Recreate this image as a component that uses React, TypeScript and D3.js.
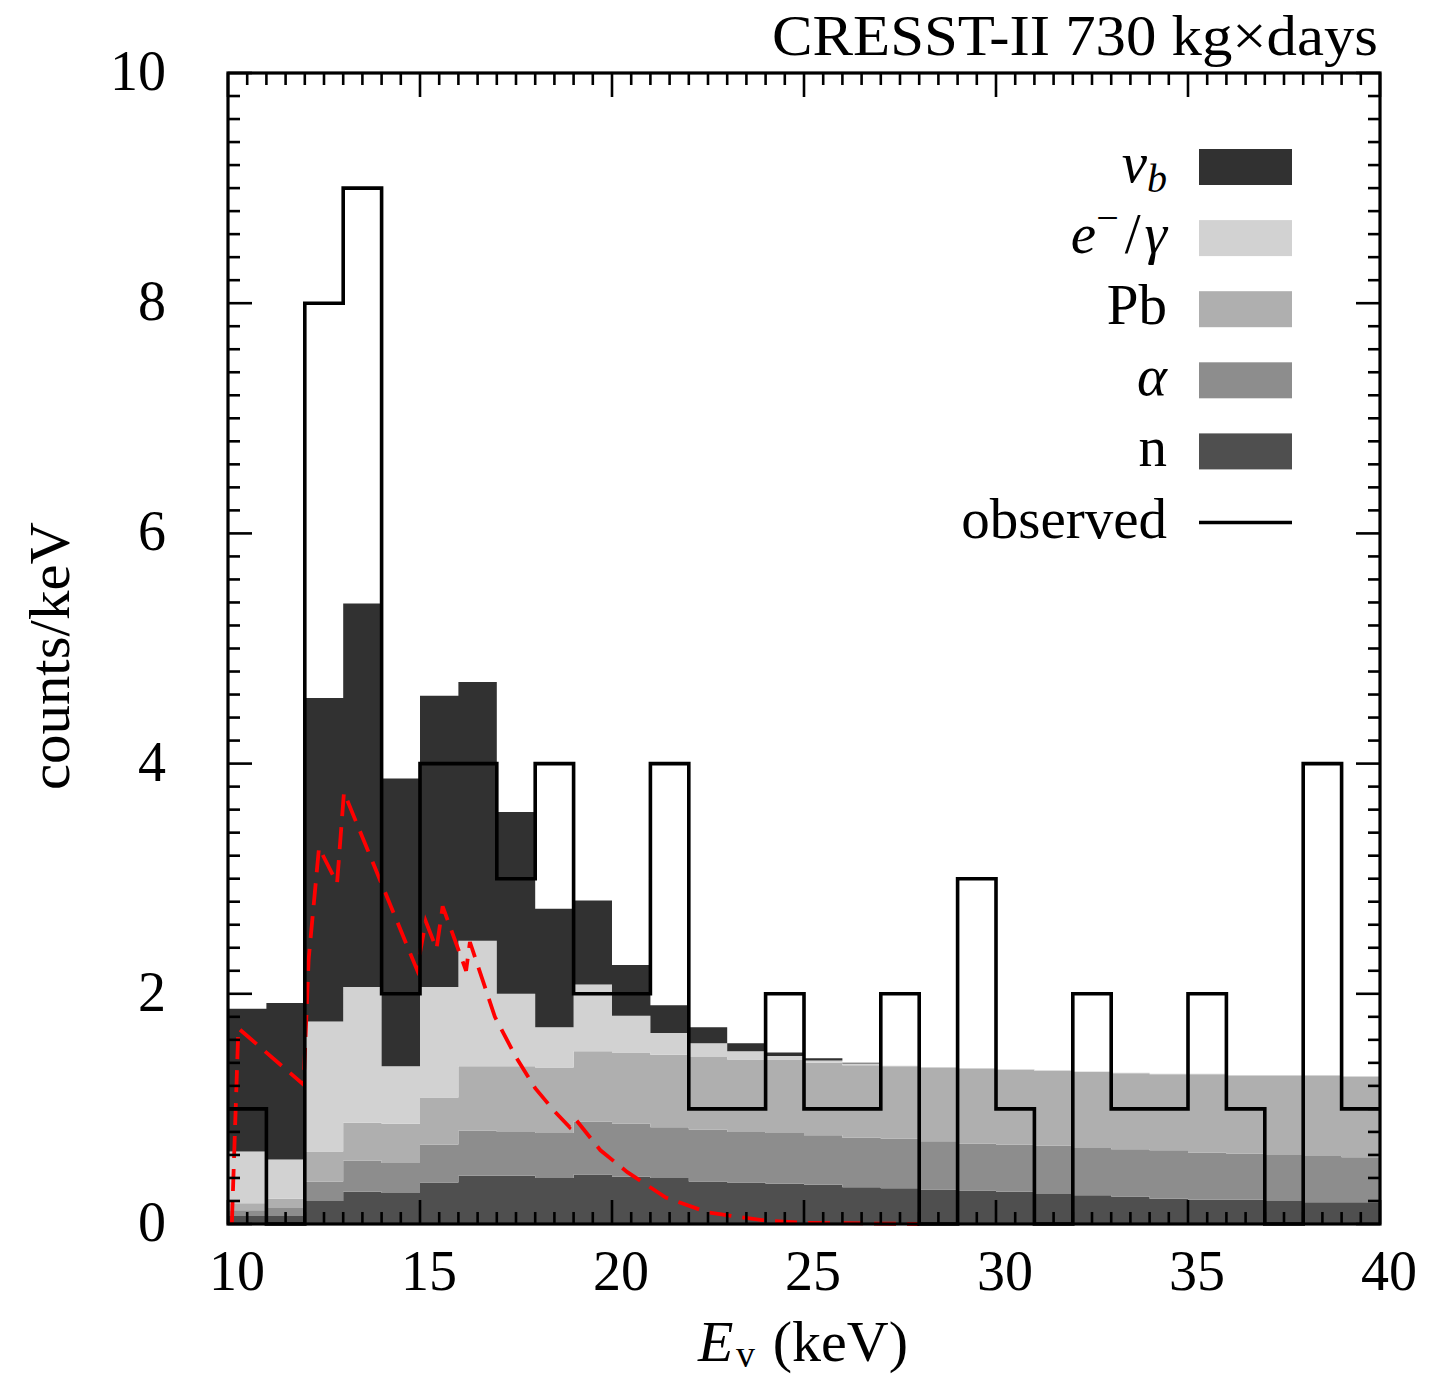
import React from "react";
import * as d3 from "d3";

// Bin lower edges (keV), 1 keV wide
const binLow = [10, 11, 12, 13, 14, 15, 16, 17, 18, 19, 20, 21, 22, 23, 24, 25, 26, 27, 28, 29, 30, 31, 32, 33, 34, 35, 36, 37, 38, 39];
const binWidth = 1;

// Stacked background components (counts/keV), bottom to top
const nNeutron = [0.07, 0.07, 0.20, 0.28, 0.27, 0.36, 0.42, 0.42, 0.40, 0.43, 0.41, 0.40, 0.37, 0.36, 0.35, 0.34, 0.32, 0.31, 0.30, 0.29, 0.28, 0.26, 0.25, 0.24, 0.22, 0.21, 0.21, 0.20, 0.19, 0.19];
const alphaBg = [0.05, 0.07, 0.17, 0.27, 0.26, 0.33, 0.39, 0.38, 0.39, 0.46, 0.46, 0.44, 0.45, 0.44, 0.44, 0.43, 0.43, 0.43, 0.42, 0.41, 0.41, 0.42, 0.41, 0.41, 0.42, 0.41, 0.40, 0.40, 0.40, 0.39];
const pbBg = [0.06, 0.08, 0.26, 0.33, 0.34, 0.41, 0.56, 0.57, 0.57, 0.61, 0.62, 0.63, 0.63, 0.63, 0.64, 0.63, 0.63, 0.63, 0.64, 0.65, 0.65, 0.65, 0.66, 0.66, 0.66, 0.68, 0.68, 0.69, 0.70, 0.70];
const egBg = [0.45, 0.34, 1.13, 1.18, 0.50, 0.96, 1.09, 0.63, 0.35, 0.58, 0.32, 0.19, 0.12, 0.07, 0.03, 0.02, 0.015, 0.005, 0.005, 0.005, 0.005, 0.005, 0.005, 0.005, 0.005, 0.005, 0.005, 0.005, 0.005, 0.005];
const nuB = [1.24, 1.36, 2.81, 3.33, 2.50, 2.53, 2.25, 1.58, 1.03, 0.73, 0.44, 0.24, 0.14, 0.07, 0.03, 0.02, 0.005, 0, 0, 0, 0, 0, 0, 0, 0, 0, 0, 0, 0, 0];

// Observed counts/keV
const observed = [1, 0, 8, 9, 2, 4, 4, 3, 4, 2, 2, 4, 1, 1, 2, 1, 1, 2, 0, 3, 1, 0, 2, 1, 1, 2, 1, 0, 4, 1];

// Red dashed curve (keV, counts/keV)
const curveE = [10.1, 10.27, 11.97, 12.1, 12.37, 12.84, 13.02, 14.92, 15.15, 15.43, 15.59, 16.2, 16.3, 16.95, 17.5, 18.0, 18.5, 18.9, 19.05, 19.7, 20.4, 21.4, 22.5, 24.0, 25.0, 28.0];
const curveV = [0, 1.70, 1.21, 2.30, 3.27, 2.96, 3.75, 2.21, 2.63, 2.39, 2.76, 2.20, 2.45, 1.80, 1.45, 1.18, 0.98, 0.84, 0.91, 0.64, 0.45, 0.23, 0.10, 0.03, 0.01, 0.0];

const seriesKeys = ["n", "alpha", "pb", "eg", "nu"];
const seriesColors: Record<string, string> = {
  n: "#4f4f4f",
  alpha: "#8d8d8d",
  pb: "#afafaf",
  eg: "#d2d2d2",
  nu: "#313131",
};

const xTickLabels = ["10", "15", "20", "25", "30", "35", "40"];
const yTickLabels = ["0", "2", "4", "6", "8", "10"];

const FONT = "'Liberation Serif', 'DejaVu Serif', serif";

export default function App() {
  const W = 1449, H = 1379;
  const L = 228, R = 1380, T = 73, B = 1224;
  const x = d3.scaleLinear().domain([10, 40]).range([L, R]);
  const y = d3.scaleLinear().domain([0, 10]).range([B, T]);

  const rows = binLow.map((b, i) => ({
    b,
    n: nNeutron[i],
    alpha: alphaBg[i],
    pb: pbBg[i],
    eg: egBg[i],
    nu: nuB[i],
  }));
  const stacked = d3.stack<any>().keys(seriesKeys)(rows);

  const area = d3
    .area<any>()
    .x((d) => x(d.e))
    .y0((d) => y(d.y0))
    .y1((d) => y(d.y1))
    .curve(d3.curveStepAfter);

  const areas = stacked.map((s) => {
    const pts = s.map((d: any) => ({ e: d.data.b, y0: d[0], y1: d[1] }));
    const last = s[s.length - 1];
    pts.push({ e: last.data.b + binWidth, y0: last[0], y1: last[1] });
    return { key: s.key, d: area(pts) as string };
  });

  const obsPts: [number, number][] = binLow.map((b, i) => [b, observed[i]]);
  obsPts.push([binLow[binLow.length - 1] + binWidth, observed[observed.length - 1]]);
  const obsLine = d3
    .line<[number, number]>()
    .x((d) => x(d[0]))
    .y((d) => y(d[1]))
    .curve(d3.curveStepAfter)(obsPts) as string;

  const redLine = d3
    .line<number>()
    .x((d) => x(d))
    .y((_, i) => y(curveV[i]))(curveE) as string;

  const xMajor = x.ticks(6);
  const xMinor = x.ticks(60).filter((t) => !xMajor.includes(t));
  const yMajor = y.ticks(5);
  const yMinor = y.ticks(50).filter((t) => Math.abs(t / 2 - Math.round(t / 2)) > 1e-6);

  const majLen = 24, minLen = 12, tickW = 2.6;

  const legendItems = [
    { key: "nu" },
    { key: "eg" },
    { key: "pb" },
    { key: "alpha" },
    { key: "n" },
    { key: "obs" },
  ];
  const legY0 = 167, legDy = 71.1, legTextX = 1167, swX = 1199, swW = 93, swH = 36;

  const renderLabel = (key: string, ly: number) => {
    const base = ly + 15;
    const common = { x: legTextX, y: base, textAnchor: "end" as const, fontFamily: FONT, fontSize: 57 };
    switch (key) {
      case "nu":
        return (
          <text {...common}>
            <tspan fontStyle="italic">ν</tspan>
            <tspan fontStyle="italic" fontSize={40} dy={10}>b</tspan>
          </text>
        );
      case "eg":
        return (
          <text {...common}>
            <tspan fontStyle="italic">e</tspan>
            <tspan fontSize={40} dy={-22}>−</tspan>
            <tspan dy={22} dx={6}>/</tspan>
            <tspan fontStyle="italic" dx={4}>γ</tspan>
          </text>
        );
      case "pb":
        return <text {...common}>Pb</text>;
      case "alpha":
        return <text {...common} fontStyle="italic">α</text>;
      case "n":
        return <text {...common}>n</text>;
      default:
        return <text {...common}>observed</text>;
    }
  };

  return (
    <svg
      width={W}
      height={H}
      style={{ position: "absolute", left: 0, top: 0, background: "#fff" }}
    >
      <rect x={0} y={0} width={W} height={H} fill="#fff" />
      {/* stacked backgrounds */}
      {areas.map((a) => (
        <path key={a.key} d={a.d} fill={seriesColors[a.key]} stroke="none" />
      ))}
      {/* red dashed curve */}
      <path d={redLine} fill="none" stroke="#ff0000" strokeWidth={3.8} strokeDasharray="22,11" />
      {/* observed histogram */}
      <path d={obsLine} fill="none" stroke="#000" strokeWidth={3.6} strokeLinejoin="miter" />

      {/* ticks */}
      <g stroke="#000" strokeWidth={tickW}>
        {xMajor.map((t) => (
          <g key={"xM" + t}>
            <line x1={x(t)} x2={x(t)} y1={B} y2={B - majLen} />
            <line x1={x(t)} x2={x(t)} y1={T} y2={T + majLen} />
          </g>
        ))}
        {xMinor.map((t) => (
          <g key={"xm" + t}>
            <line x1={x(t)} x2={x(t)} y1={B} y2={B - minLen} />
            <line x1={x(t)} x2={x(t)} y1={T} y2={T + minLen} />
          </g>
        ))}
        {yMajor.map((t) => (
          <g key={"yM" + t}>
            <line x1={L} x2={L + majLen} y1={y(t)} y2={y(t)} />
            <line x1={R} x2={R - majLen} y1={y(t)} y2={y(t)} />
          </g>
        ))}
        {yMinor.map((t) => (
          <g key={"ym" + t}>
            <line x1={L} x2={L + minLen} y1={y(t)} y2={y(t)} />
            <line x1={R} x2={R - minLen} y1={y(t)} y2={y(t)} />
          </g>
        ))}
      </g>
      {/* frame */}
      <rect x={L} y={T} width={R - L} height={B - T} fill="none" stroke="#000" strokeWidth={3.2} />

      {/* tick labels */}
      {xMajor.map((t, i) => (
        <text key={"xl" + t} x={x(t) + 9} y={1290} textAnchor="middle" fontFamily={FONT} fontSize={56}>
          {xTickLabels[i]}
        </text>
      ))}
      {yMajor.map((t, i) => (
        <text key={"yl" + t} x={166} y={y(t) + 17} textAnchor="end" fontFamily={FONT} fontSize={56}>
          {yTickLabels[i]}
        </text>
      ))}

      {/* axis titles */}
      <text x={698} y={1361} fontFamily={FONT} fontSize={58} fontStyle="italic">E</text>
      <text x={736} y={1367} fontFamily={FONT} fontSize={38}>v</text>
      <text x={908} y={1361} textAnchor="end" fontFamily={FONT} fontSize={58}>(keV)</text>
      <text
        transform={`translate(69,656) rotate(-90)`}
        textAnchor="middle"
        fontFamily={FONT}
        fontSize={57}
        textLength={268}
        lengthAdjust="spacingAndGlyphs"
      >
        counts/keV
      </text>
      <text
        x={1378}
        y={55}
        textAnchor="end"
        fontFamily={FONT}
        fontSize={57}
        textLength={606}
        lengthAdjust="spacingAndGlyphs"
      >
        CRESST-II 730 kg×days
      </text>

      {/* legend */}
      {legendItems.map((it, i) => {
        const ly = legY0 + i * legDy;
        return (
          <g key={it.key}>
            {renderLabel(it.key, ly)}
            {it.key === "obs" ? (
              <line x1={swX} x2={swX + swW} y1={ly} y2={ly} stroke="#000" strokeWidth={3.4} />
            ) : (
              <rect x={swX} y={ly - swH / 2} width={swW} height={swH} fill={seriesColors[it.key]} />
            )}
          </g>
        );
      })}
    </svg>
  );
}
